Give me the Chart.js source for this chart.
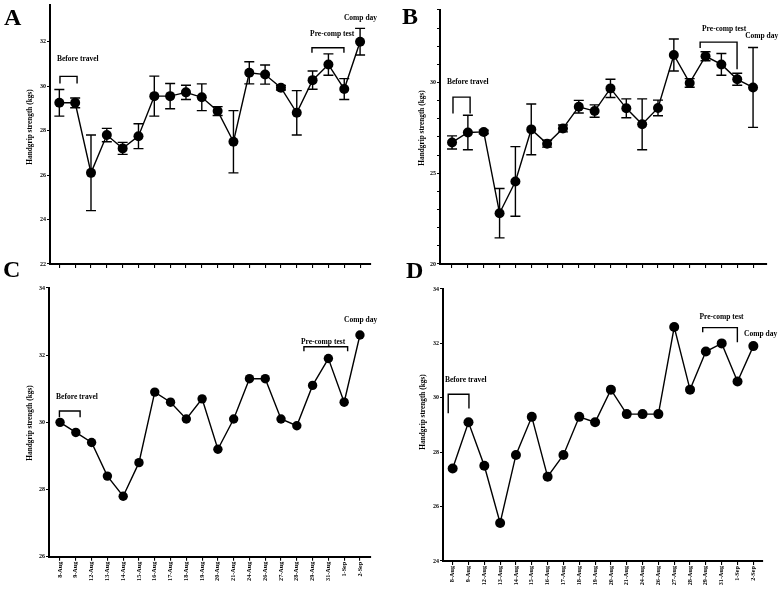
<!DOCTYPE html>
<html>
<head>
<meta charset="utf-8">
<script src="https://cdn.jsdelivr.net/npm/chart.js@4.4.0/dist/chart.umd.min.js"></script>
<style>
  body { margin: 0; background: #fff; width: 780px; height: 590px; position: relative; overflow: hidden; }
  canvas { position: absolute; }
  .letter { position: absolute; font: bold 24px 'Liberation Serif', serif; line-height: 24px; color: #000; z-index: 2; }
</style>
</head>
<body>
<canvas id="chartA" width="390" height="282" style="left:0;top:0"></canvas>
<canvas id="chartB" width="390" height="282" style="left:390px;top:0"></canvas>
<canvas id="chartC" width="390" height="308" style="left:0;top:282px"></canvas>
<canvas id="chartD" width="390" height="308" style="left:390px;top:282px"></canvas>
<div class="letter" style="left:4px;top:5px">A</div>
<div class="letter" style="left:402px;top:4px">B</div>
<div class="letter" style="left:3px;top:257px">C</div>
<div class="letter" style="left:406px;top:258px">D</div>
<script>
// test days
const dateLabels = ['8-Aug', '9-Aug', '12-Aug', '13-Aug', '14-Aug', '15-Aug', '16-Aug', '17-Aug', '18-Aug', '19-Aug',
  '20-Aug', '21-Aug', '24-Aug', '26-Aug', '27-Aug', '28-Aug', '29-Aug', '31-Aug', '1-Sep', '2-Sep'];

// handgrip strength (kgs), mean and SD
const strengthA = [29.25, 29.25, 26.1, 27.8, 27.2, 27.75, 29.55, 29.55, 29.72, 29.5,
  28.88, 27.5, 30.6, 30.52, 29.93, 28.8, 30.27, 30.97, 29.87, 32.0];
const errorA = [0.6, 0.22, 1.7, 0.3, 0.27, 0.56, 0.9, 0.57, 0.32, 0.6,
  0.2, 1.4, 0.5, 0.43, 0.1, 1.0, 0.41, 0.48, 0.47, 0.6];
const strengthB = [26.7, 27.25, 27.28, 22.8, 24.55, 27.42, 26.63, 27.47, 28.67, 28.43,
  29.68, 28.58, 27.7, 28.6, 31.52, 29.98, 31.45, 31.0, 30.18, 29.73];
const errorB = [0.36, 0.95, 0.1, 1.36, 1.92, 1.4, 0.19, 0.19, 0.35, 0.34,
  0.5, 0.52, 1.4, 0.43, 0.88, 0.24, 0.25, 0.6, 0.33, 2.2];
const strengthC = [30.0, 29.7, 29.4, 28.4, 27.8, 28.8, 30.9, 30.6, 30.1, 30.7,
  29.2, 30.1, 31.3, 31.3, 30.1, 29.9, 31.1, 31.9, 30.6, 32.6];
const strengthD = [27.4, 29.1, 27.5, 25.4, 27.9, 29.3, 27.1, 27.9, 29.3, 29.1,
  30.3, 29.4, 29.4, 29.4, 32.6, 30.3, 31.7, 32.0, 30.6, 31.9];

// y axis ticks
const yTicksA = [22, 24, 26, 28, 30, 32];
const yTicksB = [20, 21, 22, 23, 24, 25, 26, 27, 28, 29, 30, 31, 32, 33, 34];
const yLabelsB = [20, 25, 30];
const yTicksC = [26, 28, 30, 32, 34];
const yTicksD = [24, 26, 28, 30, 32, 34];

const serif = "'Liberation Serif', 'Times New Roman', serif";

// per-panel extras: error bars, notes and brackets
const extras = {};

const panelExtras = {
  id: 'panelExtras',
  beforeDatasetsDraw(chart) {
    const ex = extras[chart.canvas.id];
    if (!ex || !ex.errors) return;
    const { ctx, scales: { x, y } } = chart;
    ctx.save();
    ctx.strokeStyle = '#000';
    ctx.lineWidth = 1.4;
    ex.values.forEach((v, i) => {
      const px = x.getPixelForValue(i);
      const t = y.getPixelForValue(v + ex.errors[i]);
      const b = y.getPixelForValue(v - ex.errors[i]);
      ctx.beginPath();
      ctx.moveTo(px, t); ctx.lineTo(px, b);
      ctx.moveTo(px - 5, t); ctx.lineTo(px + 5, t);
      ctx.moveTo(px - 5, b); ctx.lineTo(px + 5, b);
      ctx.stroke();
    });
    ctx.restore();
  },
  afterDraw(chart) {
    const ex = extras[chart.canvas.id];
    const { ctx, scales: { x, y } } = chart;
    ctx.save();
    ctx.fillStyle = '#000';
    ctx.strokeStyle = '#000';
    ctx.lineWidth = 1.4;
    ctx.font = 'bold 7.5px ' + serif;
    ctx.textAlign = 'left';
    ctx.textBaseline = 'middle';
    ex.notes.forEach(n => ctx.fillText(n.text, x.getPixelForValue(n.x), y.getPixelForValue(n.y)));
    ex.brackets.forEach(b => {
      const x0 = x.getPixelForValue(b.x0), x1 = x.getPixelForValue(b.x1);
      ctx.beginPath();
      ctx.moveTo(x0, y.getPixelForValue(b.yl));
      ctx.lineTo(x0, y.getPixelForValue(b.top));
      ctx.lineTo(x1, y.getPixelForValue(b.top));
      ctx.lineTo(x1, y.getPixelForValue(b.yr));
      ctx.stroke();
    });
    // y axis title
    ctx.translate(ex.title[0], ex.title[1]);
    ctx.rotate(-Math.PI / 2);
    ctx.font = 'bold 7.3px ' + serif;
    ctx.textAlign = 'center';
    ctx.fillText('Handgrip strength (kgs)', 0, 0);
    ctx.restore();
  }
};

function makePanel(id, p) {
  const canvas = document.getElementById(id);
  const W = canvas.width, H = canvas.height;
  extras[id] = p;
  return new Chart(canvas, {
    type: 'line',
    data: {
      datasets: [{
        data: p.values.map((v, i) => ({ x: i, y: v })),
        borderColor: '#000',
        borderWidth: 1.4,
        pointRadius: p.radius,
        pointBackgroundColor: '#000',
        pointBorderWidth: 0,
        tension: 0,
        fill: false
      }]
    },
    options: {
      responsive: false,
      animation: false,
      layout: { padding: { top: p.area.top, right: W - p.area.right, left: 0, bottom: 0 } },
      plugins: { legend: { display: false }, tooltip: { enabled: false } },
      scales: {
        x: {
          type: 'linear',
          min: p.xRange[0],
          max: p.xRange[1],
          afterBuildTicks: s => { s.ticks = dateLabels.map((l, i) => ({ value: i })); },
          afterFit: s => { s.height = H - p.area.bottom; },
          grid: { drawOnChartArea: false, drawTicks: true, tickLength: 4, color: '#000', lineWidth: 1.1 },
          border: { color: '#000', width: 2 },
          ticks: {
            autoSkip: false, minRotation: 90, maxRotation: 90, padding: 1,
            color: '#000', font: { family: serif, weight: 'bold', size: 6.2 },
            callback: v => p.showX ? dateLabels[v] : ''
          }
        },
        y: {
          min: p.yRange[0],
          max: p.yRange[1],
          afterBuildTicks: s => { s.ticks = p.yTicks.map(v => ({ value: v })); },
          afterFit: s => { s.width = p.area.left; },
          grid: { drawOnChartArea: false, drawTicks: true, tickLength: 3, color: '#000', lineWidth: 1.1 },
          border: { color: '#000', width: 2 },
          ticks: {
            padding: 1, color: '#000', font: { family: serif, weight: 'bold', size: 6 },
            callback: v => (!p.yLabels || p.yLabels.includes(v)) ? v : ''
          }
        }
      }
    },
    plugins: [panelExtras]
  });
}

makePanel('chartA', {
  values: strengthA, errors: errorA, radius: 5,
  area: { left: 50, right: 371, top: 3, bottom: 264 },
  xRange: [-0.59, 19.69], yRange: [22, 33.65], yTicks: yTicksA, showX: false,
  title: [30, 127],
  notes: [
    { text: 'Before travel', x: -0.15, y: 31.24 },
    { text: 'Pre-comp test', x: 15.84, y: 32.36 },
    { text: 'Comp day', x: 17.98, y: 33.07 }
  ],
  brackets: [
    { x0: 0.04, x1: 1.12, top: 30.44, yl: 30.12, yr: 30.12 },
    { x0: 15.96, x1: 17.98, top: 31.73, yl: 31.5, yr: 31.5 }
  ]
});

makePanel('chartB', {
  values: strengthB, errors: errorB, radius: 5,
  area: { left: 50, right: 377, top: 10, bottom: 264 },
  xRange: [-0.76, 19.88], yRange: [20, 34], yTicks: yTicksB, yLabels: yLabelsB, showX: false,
  title: [32, 128],
  notes: [
    { text: 'Before travel', x: -0.32, y: 30.02 },
    { text: 'Pre-comp test', x: 15.78, y: 32.95 },
    { text: 'Comp day', x: 18.5, y: 32.56 }
  ],
  brackets: [
    { x0: 0.06, x1: 1.14, top: 29.2, yl: 28.3, yr: 28.3 },
    { x0: 15.66, x1: 17.99, top: 32.23, yl: 31.9, yr: 30.74 }
  ]
});

makePanel('chartC', {
  values: strengthC, radius: 4.7,
  area: { left: 49, right: 371, top: 6, bottom: 274.7 },
  xRange: [-0.7, 19.7], yRange: [26, 34], yTicks: yTicksC, showX: true,
  title: [30, 141],
  notes: [
    { text: 'Before travel', x: -0.25, y: 30.75 },
    { text: 'Pre-comp test', x: 15.26, y: 32.4 },
    { text: 'Comp day', x: 17.99, y: 33.04 }
  ],
  brackets: [
    { x0: -0.04, x1: 1.27, top: 30.34, yl: 30.15, yr: 30.15 },
    { x0: 15.45, x1: 18.22, top: 32.25, yl: 32.12, yr: 32.12 }
  ]
});

makePanel('chartD', {
  values: strengthD, radius: 5,
  area: { left: 53, right: 373, top: 7, bottom: 279 },
  xRange: [-0.61, 19.61], yRange: [24, 34], yTicks: yTicksD, showX: true,
  title: [33, 130],
  notes: [
    { text: 'Before travel', x: -0.49, y: 30.65 },
    { text: 'Pre-comp test', x: 15.59, y: 32.96 },
    { text: 'Comp day', x: 18.41, y: 32.33 }
  ],
  brackets: [
    { x0: -0.28, x1: 1.03, top: 30.13, yl: 29.43, yr: 29.61 },
    { x0: 15.8, x1: 17.99, top: 32.58, yl: 32.41, yr: 32.04 }
  ]
});
</script>
</body>
</html>
